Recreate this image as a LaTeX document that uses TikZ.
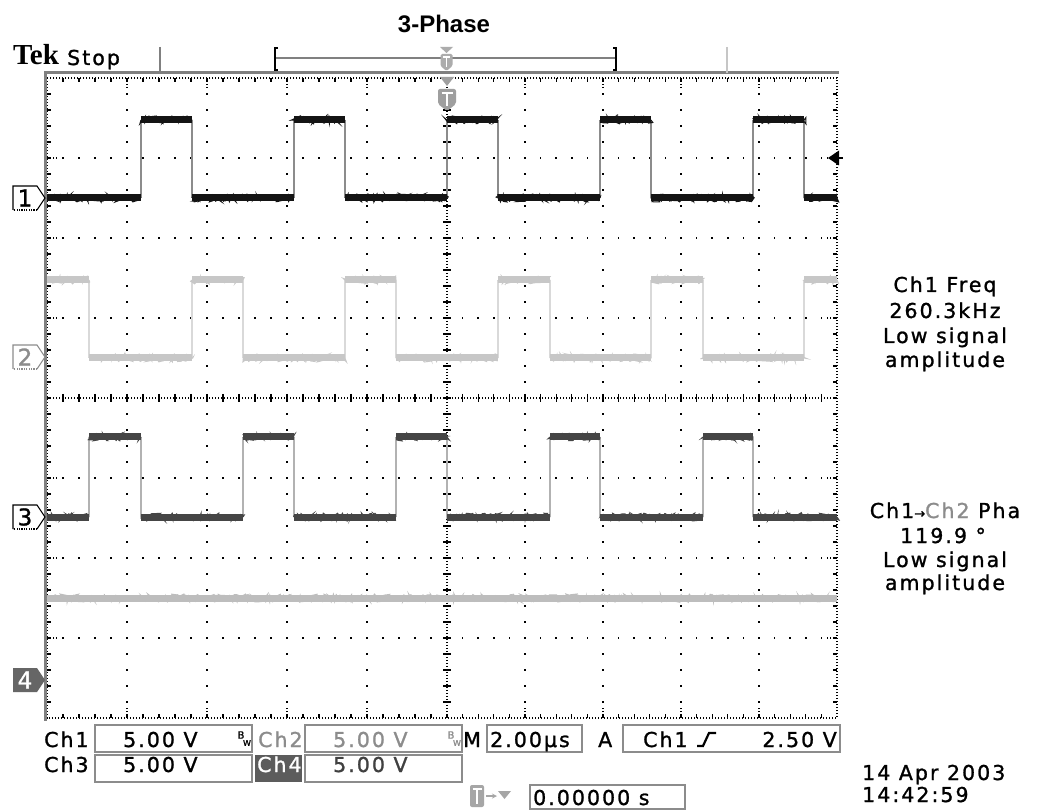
\documentclass[tikz,border=0pt]{standalone}
\usepackage{fontspec}
\usetikzlibrary{decorations.pathmorphing}
\newfontfamily\scopefont{DejaVu Sans}[LetterSpace=10,FakeBold=1.2]
\newfontfamily\digitfont{DejaVu Sans}[FakeBold=1.2]
\newfontfamily\arialfont{Liberation Sans}
\newfontfamily\tekfont{Liberation Serif}
\definecolor{cA}{gray}{0.08}
\definecolor{cAe}{gray}{0.55}
\definecolor{cB}{gray}{0.78}
\definecolor{cBe}{gray}{0.85}
\definecolor{cC}{gray}{0.27}
\definecolor{cCe}{gray}{0.7}
\definecolor{cD}{gray}{0.74}
\definecolor{frm}{gray}{0.5}
\definecolor{boxc}{gray}{0.55}
\definecolor{txtgray}{gray}{0.55}
\begin{document}
\begin{tikzpicture}[x=1pt,y=-1pt,
  st/.style={font=\scopefont\fontsize{20.5}{24}\selectfont, inner sep=0pt},
  stw/.style={st, anchor=base west},
  lbox/.style={draw=boxc, line width=1.2pt},
  cl/.style={line width=1.1pt, dash pattern=on 1.2pt off 1.8pt},
  tk/.style={line width=1.1pt},
  lev/.style={line width=7pt, line cap=butt},
  fuzz/.style={line width=1pt, decorate, decoration={random steps, segment length=1.2pt, amplitude=4pt}},
  edge/.style={line width=1.6pt}]
\useasboundingbox (0,0) rectangle (1037,810);
\fill[white] (0,0) rectangle (1037,810);

% ---------------- graticule ----------------
\foreach \gx in {127,207,287,367,525,603,681,759}
  \foreach \k in {1,...,39}
    \fill ({\gx-0.8},{78+16*\k-0.8}) rectangle +(1.6,1.6);
\foreach \gy in {158,238,318,478,558,638} {
  \foreach \i in {1,...,25}
    \fill ({47+16*\i-0.8},{\gy-0.8}) rectangle +(1.6,1.6);
  \foreach \j in {1,...,24}
    \fill ({447+15.6*\j-0.8},{\gy-0.8}) rectangle +(1.6,1.6);
}
% centre lines
\draw[cl] (47,398) -- (837,398);
\draw[cl] (447,78) -- (447,718);
\foreach \i in {1,...,24} {
  \draw[tk] ({47+16*\i},394) -- ({47+16*\i},402);
  \draw[tk] ({447+15.6*\i},394) -- ({447+15.6*\i},402);
}
\foreach \k in {1,...,39}
  \draw[tk] (443,{78+16*\k}) -- (451,{78+16*\k});
% border
\draw[cl] (47,78) rectangle (837,718);
\foreach \i in {1,...,25} {
  \draw[tk] ({47+16*\i},78) -- ({47+16*\i},82);
  \draw[tk] ({47+16*\i},718) -- ({47+16*\i},714);
}
\foreach \j in {1,...,24} {
  \draw[tk] ({447+15.6*\j},78) -- ({447+15.6*\j},82);
  \draw[tk] ({447+15.6*\j},718) -- ({447+15.6*\j},714);
}
\foreach \k in {1,...,39} {
  \draw[tk] (47,{78+16*\k}) -- (51,{78+16*\k});
  \draw[tk] (837,{78+16*\k}) -- (833,{78+16*\k});
}
\foreach \gx in {127,207,287,367,447,525,603,681,759} {
  \draw[cl] (\gx,78) -- (\gx,88);
  \draw[cl] (\gx,718) -- (\gx,708);
}
\foreach \gy in {158,238,318,398,478,558,638} {
  \draw[cl] (47,\gy) -- (57,\gy);
  \draw[cl] (837,\gy) -- (827,\gy);
}
% thick frame lines
\draw[frm, line width=3pt] (44,73) -- (839,73);
\draw[frm, line width=3pt] (45,72) -- (45,721);

% ---------------- waveforms ----------------
% Ch4
\draw[cD, lev] (47,598) -- (837,598);
\draw[cD, fuzz] (47,598) -- (837,598);
% Ch2
\foreach \x in {89,192,243,345,396,498,550,651,703,804}
  \draw[cBe, edge] (\x,280) -- (\x,358);
\foreach \a/\b/\y in {47/89/280, 89/192/358, 192/243/280, 243/345/358, 345/396/280, 396/498/358, 498/550/280, 550/651/358, 651/703/280, 703/804/358, 804/837/280} {
  \draw[cB, lev] (\a,\y) -- (\b,\y);
  \draw[cB, fuzz] (\a,\y) -- (\b,\y);
}
% Ch3
\foreach \x in {89,141,243,294,396,447,550,600,703,753}
  \draw[cCe, edge] (\x,437) -- (\x,517);
\foreach \a/\b/\y in {47/89/517, 89/141/437, 141/243/517, 243/294/437, 294/396/517, 396/447/437, 447/550/517, 550/600/437, 600/703/517, 703/753/437, 753/837/517} {
  \draw[cC, lev] (\a,\y) -- (\b,\y);
  \draw[cC, fuzz] (\a,\y) -- (\b,\y);
}
% Ch1
\foreach \x in {141,192,294,345,447,498,600,651,753,804}
  \draw[cAe, edge] (\x,120) -- (\x,198);
\foreach \a/\b/\y in {47/141/198, 141/192/120, 192/294/198, 294/345/120, 345/447/198, 447/498/120, 498/600/198, 600/651/120, 651/753/198, 753/804/120, 804/837/198} {
  \draw[cA, lev] (\a,\y) -- (\b,\y);
  \draw[cA, fuzz] (\a,\y) -- (\b,\y);
}

% trigger level arrow (right)
\fill (828,158) -- (839,150.5) -- (839,165.5) -- cycle;
\draw[line width=1.4pt] (837,158) -- (843,158);

% ---------------- channel markers ----------------
\foreach \n/\yc/\col in {1/198/black, 2/357/txtgray, 3/517/black} {
  \draw[\col, line width=1.1pt] (13,{\yc+12}) -- (13,{\yc-12}) -- (37,{\yc-12}) -- (45,\yc) -- (37,{\yc+12});
  \draw[\col, line width=1.1pt, dash pattern=on 1.2pt off 1.2pt] (37,{\yc+12}) -- (13,{\yc+12});
  \node[font=\digitfont\fontsize{23}{24}\selectfont, text=\col, inner sep=0pt] (mk\n) at (25,\yc) {\n};
}
\fill[gray!80!black] (13,692) -- (13,668) -- (37,668) -- (45,680) -- (37,692) -- cycle;
\node[font=\digitfont\fontsize{23}{24}\selectfont, text=white, inner sep=0pt] (mk4) at (25,680) {4};

% ---------------- top bar ----------------
\node[font=\arialfont\bfseries\fontsize{24}{28}\selectfont, anchor=base, inner sep=0pt] (title) at (444,33) {3-Phase};
\node[font=\tekfont\bfseries\fontsize{29}{30}\selectfont, anchor=base west, inner sep=0pt] (tek) at (13,65) {Tek};
\node[stw] (stop) at (67,65) {Stop};
\draw[frm, line width=1.5pt] (160,47) -- (160,73);
\draw[gray!45, line width=1.5pt] (727,47) -- (727,73);
\draw[line width=1.4pt] (278,48) -- (275,48) -- (275,70) -- (278,70);
\draw[line width=1.4pt] (613,48) -- (616,48) -- (616,70) -- (613,70);
\draw[frm, line width=1.4pt] (276,58) -- (615,58);
\fill[gray!65] (440,47) -- (453,47) -- (446.5,53) -- cycle;
\fill[gray!65, rounded corners=1.5pt] (440.5,54) -- (452.5,54) -- (452.5,66) -- (446.5,71) -- (440.5,66) -- cycle;
\draw[white, line width=1.6pt] (443,57) -- (450,57) (446.5,57) -- (446.5,67);
% trigger position marker
\fill[gray!75] (440,77) -- (454,77) -- (447,86) -- cycle;
\fill[gray!75, rounded corners=2pt] (438,89) -- (456,89) -- (456,104) -- (447,111) -- (438,104) -- cycle;
\draw[white, line width=2.2pt] (441.5,93) -- (452.5,93) (447,93) -- (447,106);

% ---------------- right readouts ----------------
\node[st, anchor=base] (r1) at (945,292) {Ch1 Freq};
\node[st, anchor=base] (r2) at (945,318) {260.3kHz};
\node[st, anchor=base] (r3) at (945,343) {Low signal};
\node[st, anchor=base] (r4) at (945,367) {amplitude};
\node[st, anchor=base] (p1) at (945,518) {Ch1{\fontsize{13}{14}\selectfont\textrightarrow}\textcolor{txtgray}{Ch2} Pha};
\node[st, anchor=base] (p2) at (943,543) {119.9 °};
\node[st, anchor=base] (p3) at (945,567) {Low signal};
\node[st, anchor=base] (p4) at (945,590) {amplitude};

% ---------------- bottom readouts ----------------
\draw[lbox] (95,725) rectangle (252,752);
\draw[lbox] (305,725) rectangle (462,752);
\draw[lbox] (487,725) rectangle (582,752);
\draw[lbox] (623,725) rectangle (840,752);
\draw[lbox] (95,755) rectangle (252,782);
\fill[gray!72!black] (255,755) rectangle (302,782);
\draw[lbox] (305,755) rectangle (462,782);
\draw[lbox] (530,785) rectangle (685,809);

\node[stw] (c1) at (44,747) {Ch1};
\node[stw] (v1) at (123,747) {5.00 V};
\node[font=\digitfont\fontsize{10}{10}\selectfont, inner sep=0pt] (bw1b) at (241,735) {B};
\node[font=\digitfont\fontsize{8}{8}\selectfont, inner sep=0pt] (bw1w) at (247,743) {W};
\node[stw, text=txtgray] (c2) at (258,747) {Ch2};
\node[stw, text=txtgray] (v2) at (333,747) {5.00 V};
\node[font=\digitfont\fontsize{10}{10}\selectfont, inner sep=0pt, text=txtgray] (bw2b) at (451,735) {B};
\node[font=\digitfont\fontsize{8}{8}\selectfont, inner sep=0pt, text=txtgray] (bw2w) at (457,743) {W};
\node[stw] (mm) at (463,747) {M};
\node[stw] (tb) at (490,747) {2.00µs};
\node[stw] (aa) at (598,747) {A};
\node[stw] (tc) at (643,747) {Ch1};
\draw[line width=2.2pt] (697,746) -- (703,746) -- (709,733) -- (716,733);
\node[st, anchor=base east] (tv) at (837,747) {2.50 V};

\node[stw] (c3) at (44,772) {Ch3};
\node[stw] (v3) at (123,772) {5.00 V};
\node[stw, text=white] (c4) at (257,772) {Ch4};
\node[stw, text=black!75] (v4) at (333,772) {5.00 V};

% trigger offset icon
\fill[gray!70, rounded corners=2pt] (470,785) rectangle (484,807);
\draw[white, line width=1.8pt] (472.5,789) -- (481.5,789) (477,789) -- (477,804);
\draw[gray!70, line width=1.2pt, -stealth] (486,796) -- (497,796);
\fill[gray!70] (498,791) -- (511,791) -- (504.5,799) -- cycle;
\node[stw] (off) at (533,805) {0.00000 s};

\node[stw] (date) at (862,780) {14 Apr 2003};
\node[stw] (time) at (862,802) {14:42:59};
\end{tikzpicture}
\end{document}
